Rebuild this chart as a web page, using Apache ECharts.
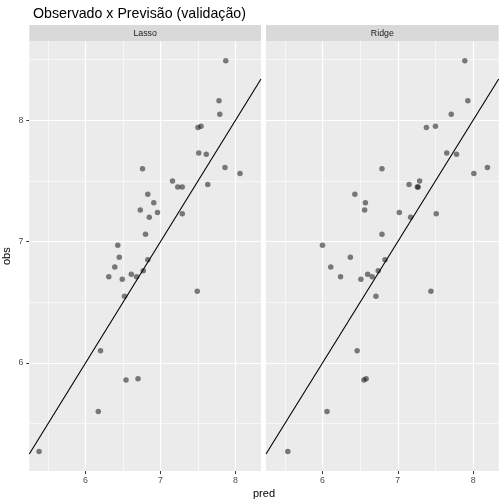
<!DOCTYPE html>
<html lang="pt">
<head>
    <meta charset="UTF-8">
    <title>Observado x Previsão</title>
    <script src="https://cdn.jsdelivr.net/npm/echarts@6/dist/echarts.min.js"></script>
    <style type="text/css">
        html, body { margin: 0; padding: 0; background: #fff; }
        #chart { width: 504px; height: 504px; }
    </style>
</head>
<body>
<div id="chart"></div>
<script type="text/javascript">
    // valores observados (mesmos nos dois modelos)
    var obs = [8.49, 8.16, 8.05, 7.94, 7.95, 7.73, 7.72, 7.61, 7.56, 7.60,
        7.50, 7.45, 7.45, 7.47, 7.39, 7.32, 7.26, 7.24, 7.20, 7.23,
        7.06, 6.97, 6.87, 6.79, 6.71, 6.69, 6.73, 6.71, 6.76, 6.85,
        6.55, 6.59, 6.10, 5.86, 5.87, 5.60, 5.27];
    // previsões Lasso
    var predLasso = [7.87, 7.78, 7.79, 7.50, 7.54, 7.51, 7.61, 7.86, 8.06, 6.76,
        7.16, 7.23, 7.29, 7.63, 6.83, 6.91, 6.73, 6.96, 6.85, 7.29,
        6.80, 6.43, 6.45, 6.39, 6.31, 6.49, 6.61, 6.68, 6.77, 6.83,
        6.52, 7.49, 6.20, 6.54, 6.70, 6.17, 5.38];
    // previsões Ridge
    var predRidge = [7.89, 7.93, 7.71, 7.38, 7.50, 7.65, 7.78, 8.19, 8.01, 6.79,
        7.29, 7.27, 7.26, 7.15, 6.43, 6.57, 6.56, 7.02, 7.17, 7.51,
        6.79, 6.00, 6.37, 6.11, 6.24, 6.51, 6.60, 6.66, 6.74, 6.83,
        6.71, 7.44, 6.46, 6.55, 6.58, 6.06, 5.54];
    var panels = ['Lasso', 'Ridge'];
    var majorTicks = [6, 7, 8];
    var minorX = [5.5, 6.5, 7.5];
    var minorY = [5.5, 6.5, 7.5, 8.5];
    var ablineIntercept = 0, ablineSlope = 1;

    var xMin = 5.25, xMax = 8.34, yMin = 5.11, yMax = 8.65;

    var grids = [
        {left: 29.3, right: 243, top: 41.3, bottom: 33},
        {left: 266, right: 5.3, top: 41.3, bottom: 33}
    ];

    function pairs(xs, ys) {
        return xs.map(function (x, i) { return [x, ys[i]]; });
    }
    var preds = [predLasso, predRidge];

    var xAxes = [], yAxes = [], series = [], graphics = [];
    panels.forEach(function (name, k) {
        var g = grids[k];
        xAxes.push({
            gridIndex: k, type: 'value', min: xMin, max: xMax,
            axisLine: {show: false},
            axisTick: {show: true, length: 3, lineStyle: {color: '#333333', width: 1}, customValues: majorTicks},
            axisLabel: {customValues: majorTicks, color: '#4d4d4d', fontSize: 8.8, margin: 5,
                fontFamily: 'Liberation Sans'},
            splitLine: {show: false}
        });
        yAxes.push({
            gridIndex: k, type: 'value', min: yMin, max: yMax,
            name: k === 0 ? 'obs' : '', nameLocation: 'middle', nameGap: 17,
            nameTextStyle: {color: '#000', fontSize: 11, fontFamily: 'Liberation Sans'},
            axisLine: {show: false},
            axisTick: {show: k === 0, length: 3, lineStyle: {color: '#333333', width: 1}, customValues: majorTicks},
            axisLabel: {show: k === 0, customValues: majorTicks, color: '#4d4d4d', fontSize: 8.8, margin: 6,
                fontFamily: 'Liberation Sans'},
            splitLine: {show: false}
        });
        // grade (major e minor) como markLine numa série vazia, por baixo dos pontos
        var gridLines = [];
        minorX.forEach(function (v) { gridLines.push({xAxis: v, lineStyle: {width: 0.6}}); });
        minorY.forEach(function (v) { gridLines.push({yAxis: v, lineStyle: {width: 0.6}}); });
        majorTicks.forEach(function (v) {
            gridLines.push({xAxis: v, lineStyle: {width: 1.2}});
            gridLines.push({yAxis: v, lineStyle: {width: 1.2}});
        });
        series.push({
            type: 'scatter', xAxisIndex: k, yAxisIndex: k, data: [], z: 1, silent: true,
            markLine: {
                silent: true, symbol: 'none', animation: false, z: 1,
                label: {show: false},
                lineStyle: {color: '#ffffff', type: 'solid'},
                data: gridLines
            }
        });
        series.push({
            type: 'scatter', xAxisIndex: k, yAxisIndex: k, z: 10,
            data: pairs(preds[k], obs),
            symbolSize: 5.5,
            itemStyle: {color: 'rgba(0,0,0,0.62)'},
            animation: false
        });
        series.push({
            type: 'line', xAxisIndex: k, yAxisIndex: k, z: 11,
            data: [[xMin, ablineIntercept + ablineSlope * xMin], [xMax, ablineIntercept + ablineSlope * xMax]],
            showSymbol: false, symbol: 'none', clip: true,
            lineStyle: {color: '#000', width: 1.1},
            animation: false
        });
        // faixa do facet
        var w = 504 - g.left - g.right;
        graphics.push({
            type: 'rect', left: g.left, top: 25,
            shape: {width: w, height: 16.3},
            style: {fill: '#d9d9d9'}
        });
        graphics.push({
            type: 'text', x: g.left + w / 2, y: 33.3,
            style: {text: name, fill: '#1a1a1a', fontSize: 8.8, fontFamily: 'Liberation Sans',
                align: 'center', verticalAlign: 'middle'}
        });
    });
    graphics.push({
        type: 'text', x: 264, y: 494,
        style: {text: 'pred', fill: '#000', fontSize: 11, fontFamily: 'Liberation Sans',
            align: 'center', verticalAlign: 'middle'}
    });

    var chart = echarts.init(document.getElementById('chart'));
    chart.setOption({
        backgroundColor: '#ffffff',
        animation: false,
        title: {
            text: 'Observado x Previsão (validação)', left: 28, top: 2,
            textStyle: {fontSize: 14.2, fontWeight: 'normal', color: '#000', fontFamily: 'Liberation Sans'}
        },
        grid: grids.map(function (g) {
            return {left: g.left, right: g.right, top: g.top, bottom: g.bottom,
                show: true, backgroundColor: '#ebebeb', borderWidth: 0};
        }),
        xAxis: xAxes,
        yAxis: yAxes,
        graphic: graphics,
        series: series
    });
</script>
</body>
</html>
